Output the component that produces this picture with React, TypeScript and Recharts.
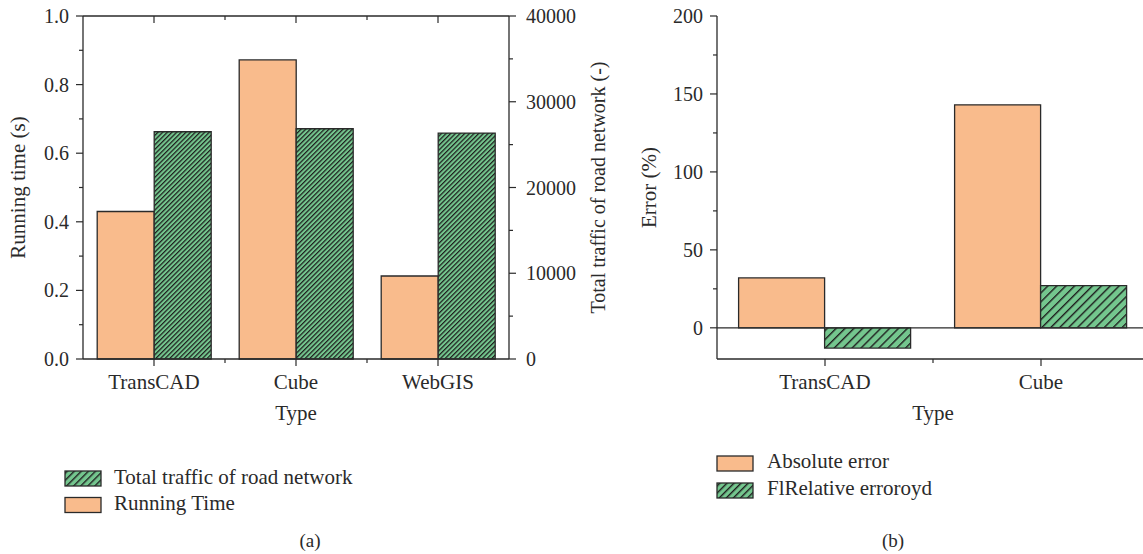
import { BarChart, Bar, XAxis, YAxis, ReferenceLine } from "recharts";

const typesA = ["TransCAD", "Cube", "WebGIS"];
const runningTime = [0.43, 0.872, 0.242];
const totalTraffic = [26500, 26850, 26350];
const leftTicks = [0, 0.1, 0.2, 0.3, 0.4, 0.5, 0.6, 0.7, 0.8, 0.9, 1.0];
const rightTicks = [0, 5000, 10000, 15000, 20000, 25000, 30000, 35000, 40000];

const typesB = ["TransCAD", "Cube"];
const absoluteError = [32, 143];
const relativeError = [-13, 27];
const errorTicks = [0, 25, 50, 75, 100, 125, 150, 175, 200];

const dataA = typesA.map((type, i) => ({ type, time: runningTime[i], traffic: totalTraffic[i] }));
const dataB = typesB.map((type, i) => ({ type, abs: absoluteError[i], rel: relativeError[i] }));

const ORANGE = "#F9BB8C";
const GREEN = "#74C68E";
const INK = "#2a2a2a";
const FONT = "'Liberation Serif', 'Times New Roman', serif";

const XTick = (props: any) => {
  const { x, y, payload, index, visibleTicksCount, top } = props;
  const off = payload?.offset || 0;
  const last = index >= visibleTicksCount - 1;
  return (
    <g>
      <line x1={x} x2={x} y1={y} y2={y + 7} stroke={INK} strokeWidth={1.2} />
      {!last && <line x1={x + off} x2={x + off} y1={y} y2={y + 4} stroke={INK} strokeWidth={1.2} />}
      {!top && (
        <text x={x} y={y + 30} textAnchor="middle" fontFamily={FONT} fontSize={21} fill={INK}>
          {payload.value}
        </text>
      )}
    </g>
  );
};

const YTick = (props: any) => {
  const { x, y, payload, orientation, isMajor, fmt } = props;
  const major = isMajor(payload.value);
  const s = orientation === "right" ? 1 : -1;
  const len = major ? 7 : 4;
  return (
    <g>
      <line x1={x} x2={x + s * len} y1={y} y2={y} stroke={INK} strokeWidth={1.2} />
      {major && (
        <text
          x={x + s * (orientation === "right" ? 17 : 14)}
          y={y + 7}
          textAnchor={orientation === "right" ? "start" : "end"}
          fontFamily={FONT}
          fontSize={20}
          fill={INK}
        >
          {fmt(payload.value)}
        </text>
      )}
    </g>
  );
};

const labelStyle = { fontFamily: FONT, fontSize: 21, fill: INK };
const axisLine = { stroke: INK, strokeWidth: 1.3 };

export default function App() {
  return (
    <div style={{ position: "relative", width: 1143, height: 554, overflow: "hidden", background: "#fff" }}>
      <style>{`body{margin:0}`}</style>

      {/* (a) running time vs traffic */}
      <div style={{ position: "absolute", left: 0, top: 0 }}>
        <BarChart
          width={614}
          height={440}
          data={dataA}
          margin={{ top: 16, right: 5, bottom: 21, left: 23 }}
          barCategoryGap="10%"
          barGap={0}
        >
          <defs>
            <pattern id="hatchA" width={3.3} height={10} patternUnits="userSpaceOnUse" patternTransform="rotate(45)">
              <rect width={3.3} height={10} fill={GREEN} />
              <line x1={0.6} y1={0} x2={0.6} y2={10} stroke="#1f1f1f" strokeWidth={1.3} />
            </pattern>
          </defs>
          <XAxis
            dataKey="type"
            height={60}
            axisLine={axisLine}
            tickLine={false}
            tickSize={0}
            tickMargin={0}
            interval={0}
            tick={<XTick />}
            label={{ value: "Type", position: "center", dy: 24, style: labelStyle }}
          />
          <XAxis
            xAxisId="top"
            dataKey="type"
            orientation="top"
            mirror
            axisLine={axisLine}
            tickLine={false}
            tickSize={0}
            tickMargin={0}
            interval={0}
            tick={<XTick top />}
          />
          <YAxis
            yAxisId="left"
            width={60}
            domain={[0, 1]}
            ticks={leftTicks}
            interval={0}
            axisLine={axisLine}
            tickLine={false}
            tickSize={0}
            tickMargin={0}
            tick={<YTick isMajor={(v: number) => Math.round(v * 10) % 2 === 0} fmt={(v: number) => v.toFixed(1)} />}
            label={{ value: "Running time (s)", angle: -90, position: "center", dx: -35, style: { ...labelStyle, textAnchor: "middle" } }}
          />
          <YAxis
            yAxisId="right"
            orientation="right"
            width={100}
            domain={[0, 40000]}
            ticks={rightTicks}
            interval={0}
            axisLine={axisLine}
            tickLine={false}
            tickSize={0}
            tickMargin={0}
            tick={<YTick isMajor={(v: number) => v % 10000 === 0} fmt={(v: number) => String(v)} />}
            label={{ value: "Total traffic of road network (-)", angle: -90, position: "center", dx: 39, style: { ...labelStyle, fontSize: 20, textAnchor: "middle" } }}
          />
          <Bar yAxisId="left" dataKey="time" name="Running Time" fill={ORANGE} stroke={INK} strokeWidth={1.3} isAnimationActive={false} />
          <Bar yAxisId="right" dataKey="traffic" name="Total traffic of road network" fill="url(#hatchA)" stroke={INK} strokeWidth={1.3} isAnimationActive={false} />
        </BarChart>
      </div>

      {/* (b) errors */}
      <div style={{ position: "absolute", left: 620, top: 0 }}>
        <BarChart
          width={529}
          height={440}
          data={dataB}
          margin={{ top: 16, right: 0, bottom: 21, left: 0 }}
          barCategoryGap="10%"
          barGap={0}
        >
          <defs>
            <pattern id="hatchB" width={6.3} height={10} patternUnits="userSpaceOnUse" patternTransform="rotate(45)">
              <rect width={6.3} height={10} fill={GREEN} />
              <line x1={0.7} y1={0} x2={0.7} y2={10} stroke="#1f1f1f" strokeWidth={1.4} />
            </pattern>
          </defs>
          <XAxis
            dataKey="type"
            height={60}
            axisLine={axisLine}
            tickLine={false}
            tickSize={0}
            tickMargin={0}
            interval={0}
            tick={<XTick />}
            label={{ value: "Type", position: "center", dy: 24, style: labelStyle }}
          />
          <YAxis
            width={97}
            domain={[-20, 200]}
            ticks={errorTicks}
            interval={0}
            axisLine={axisLine}
            tickLine={false}
            tickSize={0}
            tickMargin={0}
            tick={<YTick isMajor={(v: number) => v % 50 === 0} fmt={(v: number) => String(v)} />}
            label={{ value: "Error (%)", angle: -90, position: "center", dx: -20, style: { ...labelStyle, textAnchor: "middle" } }}
          />
          <ReferenceLine y={0} stroke={INK} strokeWidth={1.2} />
          <Bar dataKey="abs" name="Absolute error" fill={ORANGE} stroke={INK} strokeWidth={1.3} isAnimationActive={false} />
          <Bar dataKey="rel" name="FlRelative erroroyd" fill="url(#hatchB)" stroke={INK} strokeWidth={1.3} isAnimationActive={false} />
        </BarChart>
      </div>

      {/* legends and captions */}
      <svg width={1143} height={554} style={{ position: "absolute", left: 0, top: 0, pointerEvents: "none" }}>
        <defs>
          <pattern id="hatchL" width={5} height={10} patternUnits="userSpaceOnUse" patternTransform="rotate(45)">
            <rect width={5} height={10} fill={GREEN} />
            <line x1={0.7} y1={0} x2={0.7} y2={10} stroke="#1f1f1f" strokeWidth={1.4} />
          </pattern>
        </defs>
        <g fontFamily={FONT} fontSize={21} fill={INK}>
          <rect x={65} y={471} width={36} height={15} fill="url(#hatchL)" stroke={INK} strokeWidth={1.3} />
          <text x={114} y={484}>Total traffic of road network</text>
          <rect x={65} y={497.5} width={36} height={15} fill={ORANGE} stroke={INK} strokeWidth={1.3} />
          <text x={114} y={510}>Running Time</text>
          <text x={310} y={547} textAnchor="middle" fontSize={19}>(a)</text>

          <rect x={717} y={456} width={36} height={15} fill={ORANGE} stroke={INK} strokeWidth={1.3} />
          <text x={767} y={468}>Absolute error</text>
          <rect x={717} y={483} width={36} height={15} fill="url(#hatchL)" stroke={INK} strokeWidth={1.3} />
          <text x={767} y={495}>FlRelative erroroyd</text>
          <text x={893} y={547} textAnchor="middle" fontSize={19}>(b)</text>
        </g>
      </svg>
    </div>
  );
}
